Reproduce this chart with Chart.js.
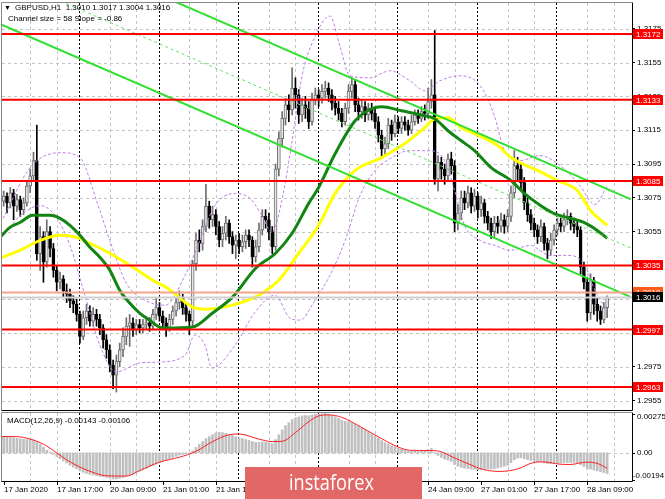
<!DOCTYPE html>
<html>
<head>
<meta charset="utf-8">
<script src="https://cdn.jsdelivr.net/npm/chart.js@4/dist/chart.umd.min.js"></script>
<style>
html, body { margin: 0; padding: 0; background: #fff; }
#wrap { position: relative; width: 665px; height: 499px; overflow: hidden; }
#main { position: absolute; left: 0; top: 0; }
#macd { position: absolute; left: 0; top: 411px; }
</style>
</head>
<body>
<div id="wrap">
  <canvas id="main" width="665" height="411"></canvas>
  <canvas id="macd" width="665" height="88"></canvas>
</div>
<script>
// GBPUSD H1 candles, bar 0 = 17 Jan 01:00
const opens = [
  1.3073,1.3076,1.3072,1.3078,1.3070,1.3074,1.3068,1.3072,1.3082,1.3088,
  1.3097,1.3042,1.3052,1.3037,1.3055,1.3045,1.3032,1.3025,1.3027,1.3020,
  1.3018,1.3014,1.3012,1.3006,1.2993,1.3004,1.3008,1.3002,1.3006,1.3003,
  1.2998,1.2991,1.2985,1.2976,1.2970,1.2978,1.2985,1.2993,1.2999,1.3001,
  1.2997,1.3000,1.2998,1.3000,1.3001,1.2999,1.3006,1.3010,1.3005,1.3001,
  1.2998,1.3003,1.3008,1.3013,1.3016,1.3010,1.3006,1.3002,1.3036,1.3050,
  1.3048,1.3058,1.3070,1.3062,1.3065,1.3058,1.3050,1.3054,1.3060,1.3052,
  1.3047,1.3050,1.3046,1.3049,1.3053,1.3050,1.3040,1.3046,1.3056,1.3064,
  1.3062,1.3055,1.3046,1.3092,1.3110,1.3122,1.3130,1.3127,1.3140,1.3136,
  1.3124,1.3130,1.3128,1.3120,1.3133,1.3136,1.3134,1.3138,1.3140,1.3136,
  1.3131,1.3128,1.3125,1.3120,1.3128,1.3138,1.3142,1.3130,1.3126,1.3129,
  1.3124,1.3128,1.3125,1.3120,1.3112,1.3104,1.3107,1.3118,1.3113,1.3120,
  1.3116,1.3120,1.3118,1.3115,1.3120,1.3124,1.3122,1.3126,1.3125,1.3132,
  1.3136,1.3086,1.3096,1.3092,1.3088,1.3098,1.3094,1.3060,1.3066,1.3075,
  1.3072,1.3078,1.3070,1.3076,1.3068,1.3072,1.3064,1.3060,1.3055,1.3060,
  1.3058,1.3062,1.3058,1.3064,1.3078,1.3094,1.3092,1.3084,1.3072,1.3065,
  1.3060,1.3056,1.3052,1.3058,1.3048,1.3044,1.3050,1.3056,1.3060,1.3058,
  1.3062,1.3064,1.3060,1.3058,1.3056,1.3034,1.3025,1.3007,1.3026,1.3012,
  1.3008,1.3003,1.3010
];
const highs = [
  1.3079,1.3078,1.3081,1.3080,1.3077,1.3076,1.3075,1.3085,1.3092,1.3102,
  1.3118,1.3058,1.3055,1.3062,1.3058,1.3048,1.3035,1.3031,1.3029,1.3024,
  1.3021,1.3017,1.3015,1.3008,1.3008,1.3012,1.3011,1.3010,1.3009,1.3006,
  1.3000,1.2994,1.2988,1.2979,1.2982,1.2989,1.2998,1.3004,1.3006,1.3004,
  1.3003,1.3003,1.3003,1.3004,1.3004,1.3009,1.3016,1.3013,1.3008,1.3004,
  1.3006,1.3011,1.3016,1.3020,1.3018,1.3012,1.3008,1.3038,1.3054,1.3056,
  1.3062,1.3083,1.3073,1.3070,1.3068,1.3061,1.3058,1.3064,1.3062,1.3055,
  1.3053,1.3054,1.3053,1.3056,1.3056,1.3052,1.3050,1.3060,1.3068,1.3068,
  1.3066,1.3058,1.3095,1.3114,1.3126,1.3134,1.3136,1.3152,1.3146,1.3139,
  1.3134,1.3135,1.3132,1.3137,1.3140,1.3139,1.3142,1.3144,1.3143,1.3139,
  1.3135,1.3132,1.3128,1.3131,1.3142,1.3146,1.3145,1.3134,1.3133,1.3132,
  1.3131,1.3131,1.3128,1.3123,1.3115,1.3111,1.3122,1.3121,1.3124,1.3123,
  1.3123,1.3123,1.3121,1.3124,1.3127,1.3127,1.3129,1.3130,1.3140,1.3145,
  1.3174,1.3100,1.3099,1.3095,1.3101,1.3102,1.3097,1.3071,1.3079,1.3079,
  1.3082,1.3081,1.3080,1.3078,1.3076,1.3074,1.3067,1.3063,1.3064,1.3064,
  1.3066,1.3065,1.3068,1.3082,1.3103,1.3099,1.3096,1.3087,1.3075,1.3068,
  1.3063,1.3059,1.3062,1.3060,1.3051,1.3054,1.3059,1.3063,1.3063,1.3066,
  1.3068,1.3066,1.3063,1.3061,1.3058,1.3037,1.3028,1.3030,1.3028,1.3016,
  1.3011,1.3013,1.3017
];
const lows = [
  1.3070,1.3066,1.3069,1.3062,1.3067,1.3064,1.3065,1.3070,1.3078,1.3085,
  1.3038,1.3032,1.3025,1.3034,1.3040,1.3028,1.3020,1.3021,1.3016,1.3013,
  1.3010,1.3007,1.3002,1.2989,1.2991,1.3000,1.2999,1.2999,1.2999,1.2994,
  1.2986,1.2980,1.2972,1.2962,1.2960,1.2975,1.2981,1.2988,1.2987,1.2993,
  1.2994,1.2995,1.2995,1.2997,1.2996,1.2997,1.3003,1.3002,1.2997,1.2993,
  1.2996,1.3000,1.3005,1.3009,1.3006,1.3002,1.2994,1.2999,1.3032,1.3043,
  1.3044,1.3055,1.3057,1.3058,1.3053,1.3046,1.3046,1.3050,1.3048,1.3042,
  1.3039,1.3042,1.3043,1.3045,1.3046,1.3034,1.3037,1.3043,1.3053,1.3057,
  1.3050,1.3042,1.3044,1.3088,1.3105,1.3118,1.3120,1.3124,1.3128,1.3119,
  1.3120,1.3122,1.3116,1.3118,1.3130,1.3129,1.3131,1.3134,1.3132,1.3127,
  1.3124,1.3121,1.3117,1.3118,1.3125,1.3134,1.3126,1.3121,1.3122,1.3120,
  1.3121,1.3121,1.3116,1.3108,1.3099,1.3100,1.3104,1.3109,1.3111,1.3113,
  1.3113,1.3115,1.3112,1.3113,1.3118,1.3119,1.3120,1.3121,1.3122,1.3128,
  1.3083,1.3079,1.3086,1.3083,1.3085,1.3089,1.3055,1.3056,1.3062,1.3068,
  1.3069,1.3066,1.3067,1.3063,1.3064,1.3060,1.3056,1.3051,1.3052,1.3054,
  1.3055,1.3054,1.3055,1.3061,1.3075,1.3085,1.3080,1.3068,1.3061,1.3056,
  1.3052,1.3048,1.3049,1.3044,1.3039,1.3041,1.3047,1.3053,1.3055,1.3055,
  1.3059,1.3056,1.3054,1.3052,1.3030,1.3021,1.3002,1.3003,1.3006,1.3002,
  1.3000,1.3001,1.3004
];
const closes = [
  1.3076,1.3072,1.3078,1.3070,1.3074,1.3068,1.3072,1.3082,1.3088,1.3097,
  1.3042,1.3052,1.3037,1.3055,1.3045,1.3032,1.3025,1.3027,1.3020,1.3018,
  1.3014,1.3012,1.3006,1.2993,1.3004,1.3008,1.3002,1.3006,1.3003,1.2998,
  1.2991,1.2985,1.2976,1.2970,1.2978,1.2985,1.2993,1.2999,1.3001,1.2997,
  1.3000,1.2998,1.3000,1.3001,1.2999,1.3006,1.3010,1.3005,1.3001,1.2998,
  1.3003,1.3008,1.3013,1.3016,1.3010,1.3006,1.3002,1.3036,1.3050,1.3048,
  1.3058,1.3070,1.3062,1.3065,1.3058,1.3050,1.3054,1.3060,1.3052,1.3047,
  1.3050,1.3046,1.3049,1.3053,1.3050,1.3040,1.3046,1.3056,1.3064,1.3062,
  1.3055,1.3046,1.3092,1.3110,1.3122,1.3130,1.3127,1.3140,1.3136,1.3124,
  1.3130,1.3128,1.3120,1.3133,1.3136,1.3134,1.3138,1.3140,1.3136,1.3131,
  1.3128,1.3125,1.3120,1.3128,1.3138,1.3142,1.3130,1.3126,1.3129,1.3124,
  1.3128,1.3125,1.3120,1.3112,1.3104,1.3107,1.3118,1.3113,1.3120,1.3116,
  1.3120,1.3118,1.3115,1.3120,1.3124,1.3122,1.3126,1.3125,1.3132,1.3136,
  1.3086,1.3096,1.3092,1.3088,1.3098,1.3094,1.3060,1.3066,1.3075,1.3072,
  1.3078,1.3070,1.3076,1.3068,1.3072,1.3064,1.3060,1.3055,1.3060,1.3058,
  1.3062,1.3058,1.3064,1.3078,1.3094,1.3092,1.3084,1.3072,1.3065,1.3060,
  1.3056,1.3052,1.3058,1.3048,1.3044,1.3050,1.3056,1.3060,1.3058,1.3062,
  1.3064,1.3060,1.3058,1.3056,1.3034,1.3025,1.3007,1.3026,1.3012,1.3008,
  1.3003,1.3010,1.3016
];

// moving averages (at bar positions)
const maGreenBars = [-1.1, 1.9, 4.9, 8.8, 14, 17, 20, 23, 26, 29, 32, 35, 38, 41, 44, 47, 49, 57, 63, 69, 76, 82, 87, 92, 95, 100, 106, 111, 114, 120, 127, 130, 134, 138, 142, 147, 153, 157, 161, 166, 171, 175, 179, 182];
const maGreen = [1.30516, 1.30575, 1.30604, 1.30646, 1.30646, 1.30628, 1.30587, 1.30528, 1.30457, 1.30398, 1.30322, 1.30203, 1.30127, 1.30068, 1.30026, 1.29985, 1.29979, 1.29985, 1.30068, 1.30162, 1.30333, 1.30422, 1.30540, 1.30717, 1.30811, 1.31012, 1.31206, 1.31277, 1.31289, 1.31265, 1.31236, 1.31218, 1.31147, 1.31088, 1.31029, 1.30929, 1.30852, 1.30776, 1.30717, 1.30657, 1.30628, 1.30604, 1.30557, 1.30510];
const maYellowBars = [-1.1, 4.9, 11, 17, 22, 26, 32, 39, 46, 49, 57, 61, 69, 77, 83, 89, 95, 100, 106, 114, 121, 127, 130, 134, 138, 142, 149, 153, 161, 167, 173, 177, 182];
const maYellow = [1.30392, 1.30439, 1.30498, 1.30528, 1.30516, 1.30481, 1.30422, 1.30339, 1.30250, 1.30221, 1.30103, 1.30091, 1.30115, 1.30174, 1.30263, 1.30422, 1.30587, 1.30776, 1.30912, 1.30988, 1.31071, 1.31165, 1.31218, 1.31224, 1.31165, 1.31130, 1.31059, 1.30988, 1.30912, 1.30852, 1.30793, 1.30675, 1.30587];

// bands (violet dashed)
const bandUpBars = [-0.2, 8, 17, 23, 28, 32, 37, 42.6, 48.7, 54.7, 59.2, 63.7, 69.8, 74.3, 77.9, 80.9, 83.9, 87, 90, 94, 98.4, 101.4, 104.4, 110.5, 116.5, 122.5, 127, 131.6, 137.6, 143.7, 148, 151, 155.7, 161.7, 167.8, 173.8, 178.3, 182];
const bandUp = [1.30628, 1.30929, 1.31017, 1.30988, 1.30734, 1.30498, 1.30244, 1.30144, 1.30114, 1.30291, 1.30498, 1.30705, 1.30775, 1.30746, 1.30645, 1.30545, 1.30734, 1.31088, 1.31472, 1.31708, 1.31826, 1.31649, 1.31472, 1.31460, 1.31502, 1.31443, 1.31383, 1.31443, 1.31472, 1.31413, 1.31236, 1.31029, 1.30970, 1.31000, 1.30941, 1.30822, 1.30710, 1.30822];
const bandLoBars = [0, 5, 11, 15.5, 20, 24.5, 29, 34, 41, 47, 54.7, 57.7, 60.7, 62.8, 69.8, 75.8, 81.8, 86.4, 89.4, 93.9, 98.4, 103, 107.5, 112, 116.5, 122.5, 128.6, 133, 136, 139, 143.7, 148.2, 152.7, 158.7, 164.8, 170.8, 175.3, 178.3, 182];
const bandLo = [1.30527, 1.30645, 1.30704, 1.30645, 1.30468, 1.30173, 1.29878, 1.29719, 1.29772, 1.29778, 1.29819, 1.29937, 1.29878, 1.29742, 1.29878, 1.30073, 1.30173, 1.30037, 1.30026, 1.30144, 1.30291, 1.30498, 1.30764, 1.30911, 1.30982, 1.31029, 1.31029, 1.30970, 1.30793, 1.30587, 1.30498, 1.30468, 1.30439, 1.30468, 1.30409, 1.30409, 1.30350, 1.30203, 1.30085];

// regression channel (end points)
const channelBars = [-1.1, 189.2];
const channelUpper = [1.32360, 1.30741];
const channelMiddle = [1.32070, 1.30452];
const channelLower = [1.31779, 1.30162];

// horizontal levels
const levels = [1.3172, 1.3133, 1.3085, 1.3035, 1.2997, 1.2963];
const askLevel = 1.3019;
const bidLevel = 1.3016;
const priceTicks = [1.2955, 1.2975, 1.2995, 1.3015, 1.3035, 1.3055, 1.3075, 1.3095, 1.3115, 1.3135, 1.3155, 1.3175];

// MACD(12,26,9)
const macdHist = [
  0.00107,0.00108,0.00106,0.00104,0.00100,0.00097,0.00094,0.00092,0.00092,0.00090,
  0.00080,0.00062,0.00040,0.00018,0.00005,-0.00010,-0.00025,-0.00040,-0.00055,-0.00070,
  -0.00085,-0.00098,-0.00110,-0.00125,-0.00135,-0.00142,-0.00148,-0.00153,-0.00157,-0.00162,
  -0.00166,-0.00170,-0.00175,-0.00180,-0.00180,-0.00176,-0.00170,-0.00162,-0.00152,-0.00143,
  -0.00135,-0.00127,-0.00118,-0.00108,-0.00098,-0.00088,-0.00078,-0.00068,-0.00058,-0.00050,
  -0.00040,-0.00032,-0.00024,-0.00015,-0.00010,-0.00006,-0.00004,0.00015,0.00038,0.00058,
  0.00078,0.00098,0.00112,0.00125,0.00138,0.00142,0.00140,0.00135,0.00128,0.00120,
  0.00112,0.00104,0.00098,0.00092,0.00086,0.00078,0.00072,0.00072,0.00075,0.00074,
  0.00070,0.00064,0.00092,0.00125,0.00158,0.00188,0.00208,0.00230,0.00242,0.00248,
  0.00255,0.00258,0.00256,0.00262,0.00266,0.00268,0.00270,0.00272,0.00268,0.00260,
  0.00250,0.00238,0.00224,0.00218,0.00214,0.00210,0.00198,0.00184,0.00172,0.00158,
  0.00146,0.00132,0.00118,0.00102,0.00084,0.00070,0.00062,0.00050,0.00042,0.00034,
  0.00026,0.00020,0.00014,0.00012,0.00012,0.00012,0.00014,0.00018,0.00024,0.00030,
  0.00002,-0.00018,-0.00032,-0.00044,-0.00050,-0.00058,-0.00080,-0.00092,-0.00100,-0.00106,
  -0.00108,-0.00112,-0.00114,-0.00116,-0.00114,-0.00114,-0.00112,-0.00112,-0.00108,-0.00104,
  -0.00098,-0.00092,-0.00086,-0.00068,-0.00048,-0.00036,-0.00034,-0.00040,-0.00046,-0.00052,
  -0.00058,-0.00062,-0.00064,-0.00070,-0.00074,-0.00074,-0.00072,-0.00070,-0.00070,-0.00068,
  -0.00066,-0.00066,-0.00066,-0.00068,-0.00082,-0.00094,-0.00110,-0.00112,-0.00118,-0.00124,
  -0.00130,-0.00136,-0.00143
];
const signalBars = [-1.1, 4, 8, 12, 16, 19, 23, 27, 31, 37, 41, 47, 53, 58, 63, 68, 71, 77, 81, 84, 88, 92, 95, 98, 102, 108, 114, 119, 122.5, 128.5, 131.6, 135.5, 140.6, 144.6, 149.7, 154.8, 159.6, 162.6, 167.8, 170.8, 175.9, 178.9, 182];
const signal = [0.00113, 0.00112, 0.00095, 0.00060, 0.00000, -0.00048, -0.00098, -0.00135, -0.00158, -0.00160, -0.00122, -0.00064, -0.00030, 0.00010, 0.00078, 0.00125, 0.00130, 0.00095, 0.00078, 0.00080, 0.00140, 0.00215, 0.00255, 0.00262, 0.00245, 0.00175, 0.00098, 0.00040, 0.00018, 0.00016, 0.00010, -0.00030, -0.00080, -0.00115, -0.00128, -0.00112, -0.00068, -0.00062, -0.00078, -0.00080, -0.00064, -0.00072, -0.00106];
const macdMax = 0.00275;
const macdMin = -0.00194;

// time axis
const dateBars = [0, 16, 32, 48, 64, 80, 96, 112, 128, 144, 160, 176];
const dateLabels = ['17 Jan 2020', '17 Jan 17:00', '20 Jan 09:00', '21 Jan 01:00', '21 Jan 17:00', '22 Jan 09:00',
  '23 Jan 01:00', '23 Jan 17:00', '24 Jan 09:00', '27 Jan 01:00', '27 Jan 17:00', '28 Jan 09:00'];
const gridBars = [8, 16, 32, 40, 56, 64, 80, 88, 104, 112, 128, 136, 152, 160, 176, 184];
const dayBars = [23, 47, 71, 95, 119, 143, 167];

const xMin = -0.5, xMax = 189.5;
const FONT = "'Liberation Sans', Arial, sans-serif";
const isUp = i => closes[i] >= opens[i];
const pts = (xs, ys) => xs.map((x, k) => ({ x: x, y: ys[k] }));

function line(data, color, width, order, extra) {
  return Object.assign({
    type: 'line', data: data, borderColor: color, borderWidth: width,
    pointRadius: 0, fill: false, order: order, cubicInterpolationMode: 'monotone'
  }, extra || {});
}

function drawVGrid(chart) {
  const { ctx, chartArea: a, scales: { x } } = chart;
  ctx.save();
  ctx.lineWidth = 1;
  ctx.strokeStyle = '#c4c4c4';
  ctx.setLineDash([3, 3]);
  gridBars.forEach(b => {
    const px = Math.round(x.getPixelForValue(b)) + 0.5;
    ctx.beginPath(); ctx.moveTo(px, a.top); ctx.lineTo(px, a.bottom); ctx.stroke();
  });
  ctx.strokeStyle = '#000';
  ctx.setLineDash([2, 2]);
  dayBars.forEach(b => {
    const px = Math.round(x.getPixelForValue(b)) - 0.5;
    ctx.beginPath(); ctx.moveTo(px, a.top); ctx.lineTo(px, a.bottom); ctx.stroke();
  });
  ctx.restore();
}

function drawFrame(chart) {
  const { ctx, chartArea: a } = chart;
  ctx.save();
  ctx.lineWidth = 1;
  ctx.strokeStyle = '#888';
  ctx.beginPath();
  ctx.moveTo(a.left - 0.5, a.top - 0.5); ctx.lineTo(a.right, a.top - 0.5);
  ctx.moveTo(a.left - 0.5, a.top - 0.5); ctx.lineTo(a.left - 0.5, a.bottom + 0.5);
  ctx.stroke();
  ctx.strokeStyle = '#000';
  ctx.beginPath();
  ctx.moveTo(a.left - 0.5, a.bottom + 0.5); ctx.lineTo(a.right + 0.5, a.bottom + 0.5);
  ctx.moveTo(a.right + 0.5, a.top - 0.5); ctx.lineTo(a.right + 0.5, a.bottom + 0.5);
  ctx.stroke();
  ctx.restore();
}

const mainPlugin = {
  id: 'mainDecor',
  beforeDatasetsDraw(chart) {
    const { ctx, chartArea: a, scales: { y } } = chart;
    ctx.save();
    ctx.lineWidth = 1;
    ctx.strokeStyle = '#c4c4c4';
    ctx.setLineDash([3, 3]);
    priceTicks.forEach(v => {
      const py = Math.round(y.getPixelForValue(v)) + 0.5;
      if (py < a.top || py > a.bottom) return;
      ctx.beginPath(); ctx.moveTo(a.left, py); ctx.lineTo(a.right, py); ctx.stroke();
    });
    ctx.restore();
    drawVGrid(chart);
  },
  afterDraw(chart) {
    const { ctx, chartArea: a, scales: { y } } = chart;
    drawFrame(chart);
    ctx.save();
    ctx.font = '8px ' + FONT;
    ctx.textBaseline = 'middle';
    const box = (v, bg, fg) => {
      const py = Math.round(y.getPixelForValue(v));
      ctx.fillStyle = bg;
      ctx.fillRect(a.right + 1, py - 5, 30, 10);
      ctx.fillStyle = fg;
      ctx.fillText(v.toFixed(4), a.right + 4, py + 0.5);
    };
    levels.forEach(v => box(v, '#ff0000', '#fff'));
    box(askLevel, '#ff5a1e', '#fff');
    box(bidLevel, '#000', '#fff');

    // header texts
    const n = closes.length - 1;
    ctx.fillStyle = '#000';
    ctx.font = '7px ' + FONT;
    ctx.fillText('\u25BC', 4, 8);
    ctx.font = '8px ' + FONT;
    ctx.fillText('GBPUSD,H1  ' + opens[n].toFixed(4) + ' ' + highs[n].toFixed(4) + ' ' +
      lows[n].toFixed(4) + ' ' + closes[n].toFixed(4), 15, 8);
    ctx.fillText('Channel size = 58 Slope = -0.86', 8, 19);
    ctx.restore();
  }
};

const candleWicks = closes.map((_, i) => ({ x: i, y: [lows[i], highs[i]] }));
const candleBodies = closes.map((_, i) => ({ x: i, y: [opens[i], closes[i]] }));

const mainDatasets = [
  {
    type: 'bar', data: candleWicks, barThickness: 1, grouped: false, order: 9,
    backgroundColor: c => isUp(c.dataIndex) ? '#6e6e6e' : '#000'
  },
  {
    type: 'bar', data: candleBodies, barThickness: 3, grouped: false, order: 8, minBarLength: 1,
    backgroundColor: c => isUp(c.dataIndex) ? '#e6e6e6' : '#000',
    borderColor: c => isUp(c.dataIndex) ? '#6e6e6e' : '#000',
    borderWidth: 1, borderSkipped: false
  },
  line(pts(bandUpBars, bandUp), '#c07ee6', 1, 6, { borderDash: [3, 2] }),
  line(pts(bandLoBars, bandLo), '#c07ee6', 1, 6, { borderDash: [3, 2] }),
  line(pts(maYellowBars, maYellow), '#ffff00', 3, 5),
  line(pts(maGreenBars, maGreen), '#128512', 3, 4),
  line(pts(channelBars, channelMiddle), '#66e066', 1, 3, { borderDash: [3, 3], cubicInterpolationMode: 'default', tension: 0 }),
  line(pts(channelBars, channelUpper), '#2fe02f', 2, 2, { tension: 0, cubicInterpolationMode: 'default' }),
  line(pts(channelBars, channelLower), '#2fe02f', 2, 2, { tension: 0, cubicInterpolationMode: 'default' }),
  line(pts([xMin, xMax], [askLevel, askLevel]), '#f5a58c', 2, 1, { tension: 0 }),
  line(pts([xMin, xMax], [bidLevel, bidLevel]), '#cfcfcf', 2, 1, { tension: 0 })
];
levels.forEach(v => {
  mainDatasets.push(line(pts([xMin, xMax], [v, v]), '#ff0000', 2, 0, { tension: 0 }));
});

new Chart(document.getElementById('main'), {
  type: 'bar',
  data: { datasets: mainDatasets },
  options: {
    responsive: false,
    animation: false,
    devicePixelRatio: 1,
    layout: { padding: { left: 2, top: 3, right: 0, bottom: 1 } },
    plugins: { legend: { display: false }, tooltip: { enabled: false } },
    scales: {
      x: { type: 'linear', min: xMin, max: xMax, display: false, offset: false },
      y: {
        position: 'right',
        min: 1.29494,
        max: 1.31903,
        afterBuildTicks: s => { s.ticks = priceTicks.map(v => ({ value: v })); },
        afterFit: s => { s.width = 33; s.paddingTop = 0; s.paddingBottom = 0; },
        border: { display: false },
        grid: { drawOnChartArea: false, drawTicks: true, tickLength: 3, tickColor: '#000' },
        ticks: {
          font: { family: FONT, size: 8 },
          color: '#000',
          padding: 2,
          callback: v => Number(v).toFixed(4)
        }
      }
    }
  },
  plugins: [mainPlugin]
});

const macdPlugin = {
  id: 'macdDecor',
  beforeDatasetsDraw(chart) {
    const { ctx, chartArea: a, scales: { y } } = chart;
    ctx.save();
    ctx.lineWidth = 1;
    ctx.strokeStyle = '#c4c4c4';
    ctx.setLineDash([3, 3]);
    const py = Math.round(y.getPixelForValue(0)) + 0.5;
    ctx.beginPath(); ctx.moveTo(a.left, py); ctx.lineTo(a.right, py); ctx.stroke();
    ctx.restore();
    drawVGrid(chart);
  },
  afterDraw(chart) {
    const { ctx, chartArea: a, scales: { x, y } } = chart;
    drawFrame(chart);
    ctx.save();
    ctx.fillStyle = '#000';
    ctx.strokeStyle = '#000';
    ctx.font = '8px ' + FONT;
    ctx.textBaseline = 'middle';
    const n = macdHist.length - 1;
    ctx.fillText('MACD(12,26,9) ' + macdHist[n].toFixed(5) + ' ' + signal[signal.length - 1].toFixed(5), 7, a.top + 8);

    // axis labels
    ctx.fillText(macdMax.toFixed(5), a.right + 5, a.top + 4);
    ctx.fillText('0.00', a.right + 5, y.getPixelForValue(0));
    ctx.fillText(macdMin.toFixed(5), a.right + 1, a.bottom - 5, 31);
    ctx.beginPath();
    [a.top + 1, Math.round(y.getPixelForValue(0)), a.bottom - 1].forEach(py => {
      ctx.moveTo(a.right, py + 0.5); ctx.lineTo(a.right + 3, py + 0.5);
    });
    ctx.stroke();

    // date labels
    ctx.textAlign = 'left';
    dateBars.forEach((b, k) => {
      const px = Math.round(x.getPixelForValue(b));
      ctx.beginPath(); ctx.moveTo(px + 0.5, a.bottom); ctx.lineTo(px + 0.5, a.bottom + 4); ctx.stroke();
      ctx.fillText(dateLabels[k], px, a.bottom + 9);
    });

    // watermark
    ctx.fillStyle = '#e26868';
    ctx.fillRect(245, a.bottom - 14, 177, 40);
    ctx.fillStyle = '#fff';
    ctx.font = '22px "Open Sans", Roboto, sans-serif';
    ctx.textBaseline = 'alphabetic';
    ctx.fillText('instaforex', 289, a.bottom + 9, 85);
    ctx.restore();
  }
};

new Chart(document.getElementById('macd'), {
  type: 'bar',
  data: {
    datasets: [
      line(pts(signalBars, signal), '#ff2020', 1, 0),
      {
        type: 'bar', data: macdHist.map((v, i) => ({ x: i, y: v })),
        barThickness: 2, grouped: false, order: 1, backgroundColor: '#c0c0c0'
      }
    ]
  },
  options: {
    responsive: false,
    animation: false,
    devicePixelRatio: 1,
    layout: { padding: { left: 2, top: 2, right: 33, bottom: 18 } },
    plugins: { legend: { display: false }, tooltip: { enabled: false } },
    scales: {
      x: { type: 'linear', min: xMin, max: xMax, display: false, offset: false },
      y: { min: macdMin, max: macdMax, display: false }
    }
  },
  plugins: [macdPlugin]
});
</script>
</body>
</html>
